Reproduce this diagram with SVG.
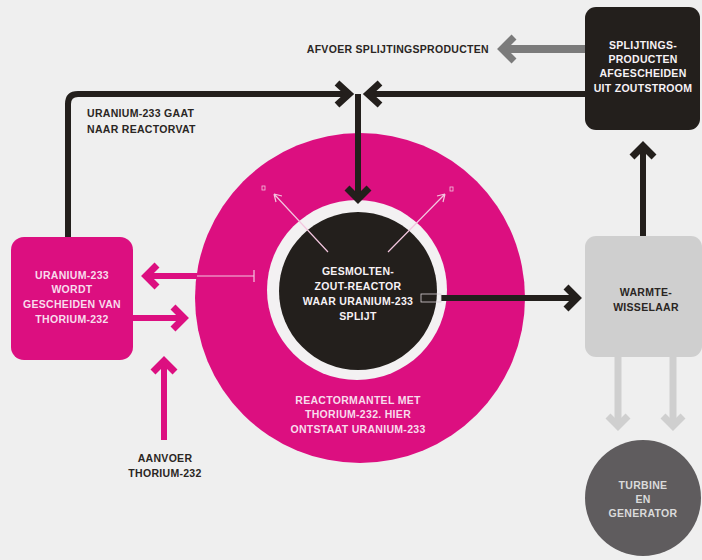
<svg xmlns="http://www.w3.org/2000/svg" width="702" height="560" viewBox="0 0 702 560">
<style>
.t{font-family:"Liberation Sans",Arial,sans-serif;font-weight:bold;font-size:10.5px;letter-spacing:0.3px;text-anchor:middle}
.w{fill:#f7f2f5}
.pw{fill:#f8dcec}
.d{fill:#2a2623}
.g{fill:#dadada}
.blk{fill:none;stroke:#231f1c;stroke-width:6}
.pnk{fill:none;stroke:#dc0f80;stroke-width:6}
.gry{fill:none;stroke:#7b7b7b;stroke-width:8}
.lgr{fill:none;stroke:#cfcfcf;stroke-width:7}
.hd{stroke-width:7}
.thin{fill:none;stroke:#f3c6df;stroke-width:1.2}
</style>
<rect width="702" height="560" fill="#efefef"/>

<g id="reactor-mantel">
<circle cx="360" cy="298" r="165" fill="#dc0f80"/>
<text class="t pw" x="358" y="404">REACTORMANTEL MET</text>
<text class="t pw" x="358" y="418">THORIUM-232. HIER</text>
<text class="t pw" x="358" y="433">ONTSTAAT URANIUM-233</text>
</g>

<g id="reactor-core">
<circle cx="357" cy="290" r="90" fill="#f3f1f2"/>
<circle cx="358" cy="291" r="79" fill="#231f1c"/>
<text class="t w" x="358" y="275">GESMOLTEN-</text>
<text class="t w" x="358" y="290">ZOUT-REACTOR</text>
<text class="t w" x="358" y="305">WAAR URANIUM-233</text>
<text class="t w" x="358" y="320">SPLIJT</text>
</g>

<g id="separator">
<rect x="11" y="237" width="122" height="123" rx="13" fill="#dc0f80"/>
<text class="t pw" x="72" y="279">URANIUM-233</text>
<text class="t pw" x="72" y="293">WORDT</text>
<text class="t pw" x="72" y="308">GESCHEIDEN VAN</text>
<text class="t pw" x="72" y="323">THORIUM-232</text>
</g>

<g id="fission-separation">
<rect x="585" y="7" width="115" height="123" rx="11" fill="#231f1c"/>
<text class="t w" x="643" y="49">SPLIJTINGS-</text>
<text class="t w" x="643" y="63">PRODUCTEN</text>
<text class="t w" x="643" y="77">AFGESCHEIDEN</text>
<text class="t w" x="643" y="92">UIT ZOUTSTROOM</text>
</g>

<g id="heat-exchanger">
<rect x="585" y="236" width="117" height="121" rx="11" fill="#cfcfcf"/>
<text class="t d" x="646" y="296">WARMTE-</text>
<text class="t d" x="646" y="311">WISSELAAR</text>
</g>

<g id="turbine">
<circle cx="643" cy="498" r="58" fill="#5f5c5e"/>
<text class="t g" x="643" y="489">TURBINE</text>
<text class="t g" x="643" y="503">EN</text>
<text class="t g" x="643" y="517">GENERATOR</text>
</g>

<g id="label-u233">
<text class="t d" x="87" y="117" style="text-anchor:start">URANIUM-233 GAAT</text>
<text class="t d" x="87" y="133" style="text-anchor:start">NAAR REACTORVAT</text>
</g>
<g id="label-afvoer">
<text class="t d" x="489" y="53" style="text-anchor:end">AFVOER SPLIJTINGSPRODUCTEN</text>
</g>
<g id="label-aanvoer">
<text class="t d" x="165" y="462">AANVOER</text>
<text class="t d" x="165" y="477">THORIUM-232</text>
</g>

<g id="connectors">
<path class="blk" d="M68,237 V104 Q68,94 78,94 H349"/>
<path class="blk hd" d="M337,83 L349,94 L337,105"/>
<path class="blk" d="M585,94 H368"/>
<path class="blk hd" d="M380,83 L368,94 L380,105"/>
<path class="blk" d="M358,94 V199"/>
<path class="blk hd" d="M347,188 L358,199 L369,188"/>
<path class="blk" d="M441,298 H576"/>
<path class="blk hd" d="M566,287 L577,298 L566,309"/>
<rect x="421" y="294" width="20" height="8" fill="none" stroke="#d8d0d4" stroke-width="0.8"/>
<path class="blk" d="M643,236 V146"/>
<path class="blk hd" d="M632,157 L643,146 L654,157"/>
<path class="gry" d="M585,49 H503"/>
<path class="gry" d="M514,37 L502,49 L514,61" style="stroke-width:7"/>
<path class="pnk" d="M197,276 H147"/>
<path class="pnk hd" d="M157,265 L146,276 L157,287"/>
<path class="thin" d="M197,276 H254 M254,270 V282"/>
<path class="pnk" d="M133,318 H184"/>
<path class="pnk hd" d="M173,307 L184,318 L173,329"/>
<path class="pnk" d="M164,440 V361"/>
<path class="pnk hd" d="M153,372 L164,361 L175,372"/>
<path class="lgr" d="M618,357 V426"/>
<path class="lgr" d="M608,416 L618,426 L628,416"/>
<path class="lgr" d="M673,357 V426"/>
<path class="lgr" d="M663,416 L673,426 L683,416"/>
<path class="thin" d="M328,252 L274,194 M274,194 L276,202 M274,194 L282,196"/>
<path class="thin" d="M388,252 L445,194 M445,194 L437,196 M445,194 L443,202"/>
<rect x="262" y="186" width="3" height="4" fill="none" stroke="#f3c6df" stroke-width="0.8"/>
<rect x="450" y="187" width="3" height="4" fill="none" stroke="#f3c6df" stroke-width="0.8"/>
</g>
</svg>
